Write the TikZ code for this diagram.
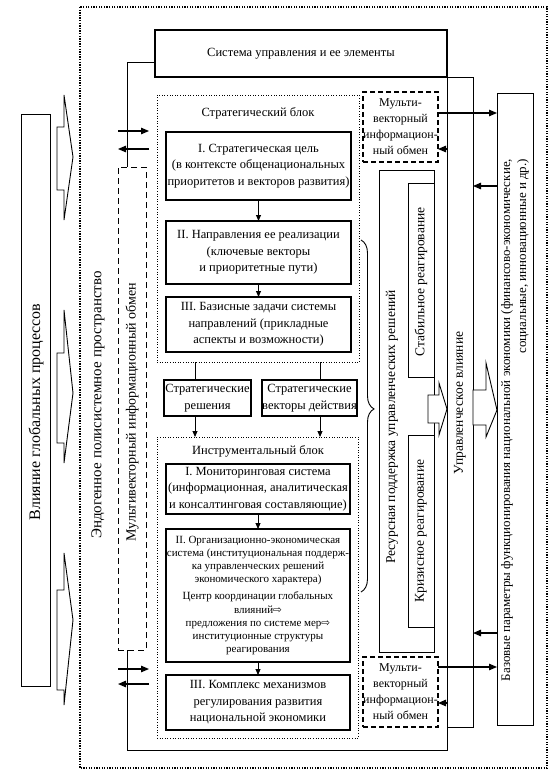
\documentclass[tikz,border=0pt]{standalone}
\usepackage{fontspec}
\setmainfont{Liberation Serif}
\newfontfamily\dejavu{DejaVu Sans}
\usetikzlibrary{arrows.meta,decorations.pathreplacing,calc}
\begin{document}
\begin{tikzpicture}[x=1pt,y=-1pt,
  bx/.style={draw, line width=1.1pt, inner sep=0pt, outer sep=0pt, anchor=north west, align=center, font=\fontsize{12.5}{16.5}\selectfont},
  col/.style={draw, line width=0.9pt, inner sep=0pt, outer sep=0pt, anchor=north west},
  dbx/.style={draw, line width=1.1pt, dash pattern=on 5pt off 3pt, inner sep=0pt, outer sep=0pt, anchor=north west, align=center, font=\fontsize{12}{16}\selectfont},
  blk/.style={draw, line width=0.6pt, dotted, inner sep=0pt, outer sep=0pt, anchor=north west},
  vt/.style={rotate=90, inner sep=0pt, font=\fontsize{13.5}{16}\selectfont},
  ln/.style={line width=1pt},
  arr/.style={line width=1.1pt, -{Triangle[length=8pt,width=6.5pt]}},
  sarr/.style={line width=0.9pt, -{Triangle[length=6pt,width=5pt]}},
  harr/.style={line width=0.9pt, fill=white, line join=miter}
]
\useasboundingbox (0,0) rectangle (555,782);
% outer frame
\draw[line width=1.7pt, dash pattern=on 1.3pt off 1.3pt] (80,7) rectangle (547,768);

% left column
\node[col, minimum width=29, minimum height=572] (infl) at (21,114) {};
\node[vt, font=\fontsize{16}{18}\selectfont] (inflt) at (36,412) {Влияние глобальных процессов};
\draw[harr] (57,127) -- (64,127) -- (64,95) -- (73,157) -- (64,220) -- (64,190) -- (57,190) -- cycle;
\draw[harr] (57,353) -- (64,353) -- (64,310) -- (73,393) -- (64,463) -- (64,443) -- (57,443) -- cycle;
\draw[harr] (57,590) -- (64,590) -- (64,553) -- (73,620) -- (64,705) -- (64,690) -- (57,690) -- cycle;

\node[vt, font=\fontsize{15}{18}\selectfont] (endo) at (98,405) {Эндогенное полисистемное пространство};
\node[col, dash pattern=on 6pt off 4pt, line width=1pt, minimum width=28, minimum height=483] (mvl) at (118,167) {};
\node[vt, font=\fontsize{14}{18}\selectfont] (mvlt) at (132,412) {Мультивекторный информационный обмен};

% top box
\node[bx, line width=1.6pt, minimum width=292, minimum height=47] (sys) at (155,30) {Система управления и ее элементы};
\coordinate (sysl) at (155,62);
\draw[ln] (sysl) -- (127,62) -- (mvl.north west -| 127,0);
\draw[ln] (mvl.south west -| 127,0) -- (127,750) -- (447,750) -- (447,727);

% left arrows
\coordinate (la1) at (118,131); \coordinate (la2) at (149,131);
\coordinate (lb1) at (149,149); \coordinate (lb2) at (118,149);
\draw[arr] (la1) -- (la2);
\draw[arr] (lb1) -- (lb2);
\coordinate (lc1) at (118,669); \coordinate (lc2) at (149,669);
\coordinate (ld1) at (149,684); \coordinate (ld2) at (118,684);
\draw[arr] (lc1) -- (lc2);
\draw[arr] (ld1) -- (ld2);

% strategic block
\node[blk, minimum width=202, minimum height=267] (sb) at (157,95) {};
\node[font=\fontsize{12.5}{15}\selectfont] (sbt) at (258,113) {Стратегический блок};
\node[bx, minimum width=185, minimum height=68] (s1) at (166,132) {I. Стратегическая цель\\(в контексте общенациональных\\приоритетов и векторов развития)};
\node[bx, minimum width=185, minimum height=63] (s2) at (166,221) {II. Направления ее реализации\\(ключевые векторы\\и приоритетные пути)};
\node[bx, minimum width=185, minimum height=55] (s3) at (166,297) {III. Базисные задачи системы\\направлений (прикладные\\аспекты и возможности)};
\draw[sarr] (s1.south) -- (s2.north);
\draw[sarr] (s2.south) -- (s3.north);

% decisions
\node[bx, minimum width=87, minimum height=36] (sr) at (164,380) {Стратегические\\решения};
\node[bx, minimum width=95, minimum height=36] (sv) at (262,380) {Стратегические\\векторы действия};
\draw[ln] (sb.south -| 195,0) -- (sr.north -| 195,0);
\draw[ln] (sb.south -| 320,0) -- (sv.north -| 320,0);

% instrumental block
\node[blk, minimum width=201, minimum height=301] (ib) at (157,437) {};
\draw[sarr] (sr.south -| 195,0) -- (ib.north -| 195,0);
\draw[sarr] (sv.south -| 320,0) -- (ib.north -| 320,0);
\node[font=\fontsize{12.5}{15}\selectfont] (ibt) at (258,451) {Инструментальный блок};
\node[bx, minimum width=184, minimum height=50] (i1) at (166,464) {I. Мониторинговая система\\(информационная, аналитическая\\и консалтинговая составляющие)};
\node[bx, minimum width=184, minimum height=133, font=\fontsize{11}{13.2}\selectfont] (i2) at (166,529) {II. Организационно-экономическая\\система (институциональная поддерж-\\ка управленческих решений\\экономического характера)\\[4pt]Центр координации глобальных\\влияний{\dejavu\fontsize{10.5}{13}\selectfont ⇨}\\предложения по системе мер{\dejavu\fontsize{10.5}{13}\selectfont ⇨}\\институционные структуры\\реагирования};
\node[bx, minimum width=184, minimum height=55] (i3) at (166,675) {III. Комплекс механизмов\\регулирования развития\\национальной экономики};
\draw[sarr] (i1.south) -- (i2.north);
\draw[sarr] (i2.south) -- (i3.north);

% brace
\draw[line width=0.9pt, decorate, decoration={brace, amplitude=13pt, aspect=0.48}] (361,240) -- (361,592);

% right side
\node[dbx, minimum width=75, minimum height=70] (m1) at (363,92) {Мульти-\\векторный\\информацион-\\ный обмен};
\node[dbx, minimum width=75, minimum height=70] (m2) at (363,657) {Мульти-\\векторный\\информацион-\\ный обмен};
\node[col, minimum width=55, minimum height=482] (res) at (379,170) {};
\node[vt] (rest) at (392,427) {Ресурсная поддержка управленческих решений};
\node[col, minimum width=26, minimum height=194] (stab) at (408,183) {};
\node[vt] (stabt) at (421,282) {Стабильное реагирование};
\node[col, minimum width=26, minimum height=192] (kriz) at (408,435) {};
\node[vt] (krizt) at (421,531) {Кризисное реагирование};
\node[col, minimum width=26, minimum height=650] (upr) at (447,77) {};
\node[vt] (uprt) at (460,403) {Управленческое влияние};
\node[col, minimum width=36, minimum height=632] (baz) at (497,93) {};
\node[vt, align=right, font=\fontsize{13}{16}\selectfont] (bazt) at (515,420) {Базовые параметры функционирования национальной экономики (финансово-экономические,\\социальные, инновационные и др.)};

% hollow arrows
\draw[harr] (428,395) -- (439,395) -- (439,383) -- (447,409) -- (439,435) -- (439,423) -- (428,423) -- cycle;
\draw[harr] (473,390) -- (486,390) -- (486,363) -- (497,410) -- (486,437) -- (486,425) -- (473,425) -- cycle;

% right arrows
\coordinate (ra1) at (438,113); \coordinate (ra2) at (497,113);
\coordinate (rb1) at (447,149); \coordinate (rb2) at (438,149);
\coordinate (rc1) at (497,186); \coordinate (rc2) at (473,186);
\coordinate (rd1) at (497,633); \coordinate (rd2) at (473,633);
\coordinate (re1) at (438,667); \coordinate (re2) at (497,667);
\coordinate (rf1) at (447,703); \coordinate (rf2) at (438,703);
\draw[arr] (ra1) -- (ra2);
\draw[arr] (rb1) -- (rb2);
\draw[arr] (rc1) -- (rc2);
\draw[arr] (rd1) -- (rd2);
\draw[arr] (re1) -- (re2);
\draw[arr] (rf1) -- (rf2);
\end{tikzpicture}
\end{document}
